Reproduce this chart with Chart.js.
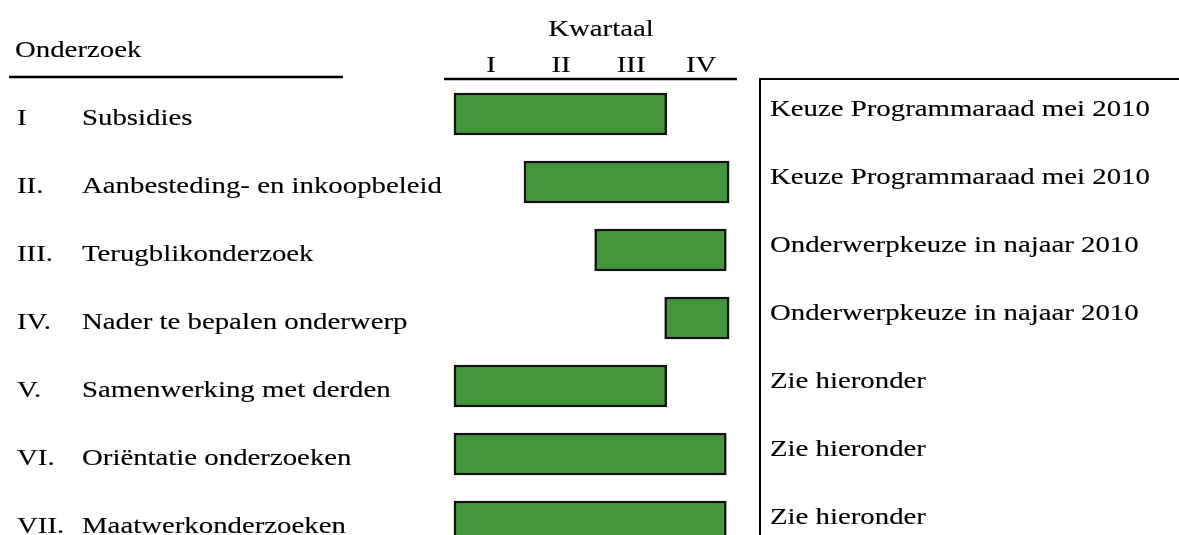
<!DOCTYPE html>
<html>
<head>
<meta charset="utf-8">
<script src="https://cdn.jsdelivr.net/npm/chart.js@4"></script>
<style>
  html, body { margin: 0; padding: 0; background: #fff; overflow: hidden; }
  canvas { display: block; }
</style>
</head>
<body>
<canvas id="chart" width="1179" height="556"></canvas>
<script>
// Data
const rowNumbers = ["I", "II.", "III.", "IV.", "V.", "VI.", "VII."];
const projects = [
    "Subsidies",
    "Aanbesteding- en inkoopbeleid",
    "Terugblikonderzoek",
    "Nader te bepalen onderwerp",
    "Samenwerking met derden",
    "Oriëntatie onderzoeken",
    "Maatwerkonderzoeken"
];
const startQuarter = [0, 1.0, 2.01, 3.01, 0, 0, 0];
const endQuarter = [3.04, 3.93, 3.89, 3.93, 3.04, 3.89, 3.89];
const quarterLabels = ["I", "II", "III", "IV"];
const remarks = [
    "Keuze Programmaraad mei 2010",
    "Keuze Programmaraad mei 2010",
    "Onderwerpkeuze in najaar 2010",
    "Onderwerpkeuze in najaar 2010",
    "Zie hieronder",
    "Zie hieronder",
    "Zie hieronder"
];

const FONT = '24px "Liberation Serif", "Times New Roman", serif';
const SX = 1.2; // text in the original is stretched horizontally

function wideText(ctx, txt, x, y, align) {
    ctx.save();
    ctx.translate(x, y);
    ctx.scale(SX, 1);
    ctx.textAlign = align;
    ctx.textBaseline = "alphabetic";
    ctx.fillText(txt, 0, 0);
    ctx.lineWidth = 0.15;
    ctx.strokeText(txt, 0, 0);
    ctx.restore();
}

function hLine(ctx, x1, x2, y, w) {
    ctx.beginPath();
    ctx.lineWidth = w;
    ctx.moveTo(x1, y);
    ctx.lineTo(x2, y);
    ctx.stroke();
}

// Draws headers, row labels, remarks and the rule lines
const tablePlugin = {
    id: "tablePlugin",
    afterDraw(chart) {
        const ctx = chart.ctx;
        const x = chart.scales.x;
        const y = chart.scales.y;
        const area = chart.chartArea;
        ctx.save();
        ctx.strokeStyle = "#000";
        ctx.fillStyle = "#000";
        ctx.font = FONT;

        // rules
        hLine(ctx, 9, 343, 77, 2.5);
        hLine(ctx, area.left, area.right, 79, 2.5);
        hLine(ctx, 760, 1179, 79, 2);
        ctx.beginPath();
        ctx.lineWidth = 2;
        ctx.moveTo(760, 78);
        ctx.lineTo(760, chart.height);
        ctx.stroke();

        // headers
        wideText(ctx, "Onderzoek", 15, 57, "left");
        wideText(ctx, "Kwartaal", x.getPixelForValue(2.1), 36, "center");
        quarterLabels.forEach(function (q, i) {
            wideText(ctx, q, x.getPixelForValue(i + 0.53), 72, "center");
        });

        // rows
        projects.forEach(function (p, i) {
            const cy = y.getPixelForValue(i);
            wideText(ctx, rowNumbers[i], 17, cy + 11, "left");
            wideText(ctx, p, 82, cy + 11, "left");
            wideText(ctx, remarks[i], 770, cy + 2, "left");
        });
        ctx.restore();
    }
};

const ctx = document.getElementById("chart").getContext("2d");
const myChart = new Chart(ctx, {
    type: "bar",
    data: {
        labels: projects,
        datasets: [{
            data: projects.map(function (p, i) { return [startQuarter[i], endQuarter[i]]; }),
            backgroundColor: "#43963b",
            borderColor: "#111",
            borderWidth: 2.5,
            borderSkipped: false,
            barThickness: 42
        }]
    },
    options: {
        indexAxis: "y",
        responsive: false,
        animation: false,
        layout: { padding: { left: 444, right: 442, top: 80, bottom: 0 } },
        plugins: {
            legend: { display: false },
            tooltip: { enabled: false }
        },
        scales: {
            x: { type: "linear", min: -0.143, max: 4.043, display: false },
            y: { display: false }
        }
    },
    plugins: [tablePlugin]
});
</script>
</body>
</html>
